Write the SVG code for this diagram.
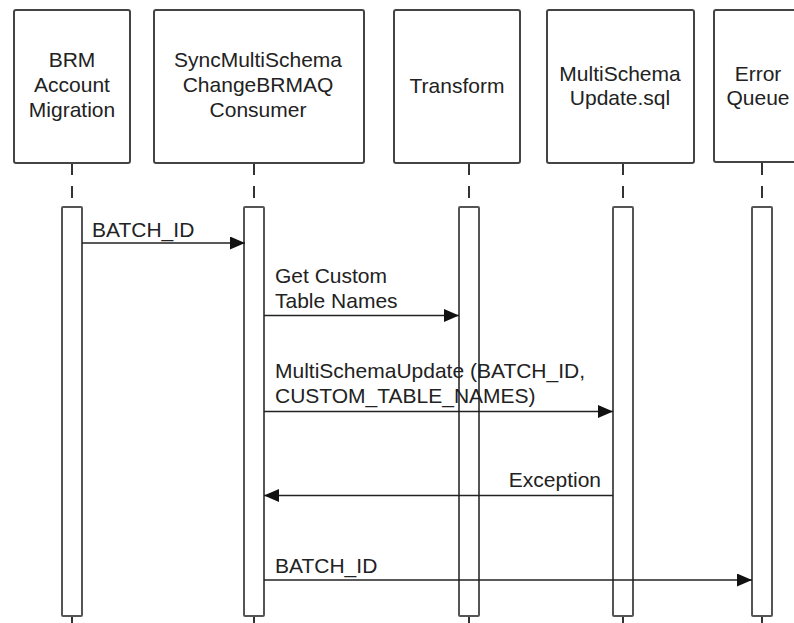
<svg xmlns="http://www.w3.org/2000/svg" width="794" height="623" viewBox="0 0 794 623">
<defs>
<style>
.box{fill:#fff;stroke:#444;stroke-width:2}
.bar{fill:#fff;stroke:#555;stroke-width:2}
.life{stroke:#333;stroke-width:2;stroke-dasharray:12 11}
.lifeb{stroke:#333;stroke-width:2}
.msg{stroke:#222;stroke-width:1.5;fill:none}
text{font-family:"Liberation Sans",Arial,sans-serif;font-size:21px;fill:#222}
.c{text-anchor:middle}
.e{text-anchor:end}
</style>
<marker id="ah" markerWidth="16" markerHeight="14" refX="15" refY="6.5" orient="auto" markerUnits="userSpaceOnUse">
<path d="M0,0 L15,6.5 L0,13 Z" fill="#111"/>
</marker>
</defs>
<rect width="794" height="623" fill="#fff"/>
<g id="lifelines">
<line class="life" x1="72" y1="163" x2="72" y2="207"/>
<line class="life" x1="254" y1="163" x2="254" y2="207"/>
<line class="life" x1="469" y1="163" x2="469" y2="207"/>
<line class="life" x1="623" y1="163" x2="623" y2="207"/>
<line class="life" x1="762" y1="163" x2="762" y2="207"/>
<line class="lifeb" x1="72" y1="616" x2="72" y2="623"/>
<line class="lifeb" x1="254" y1="616" x2="254" y2="623"/>
<line class="lifeb" x1="469" y1="616" x2="469" y2="623"/>
<line class="lifeb" x1="623" y1="616" x2="623" y2="623"/>
<line class="lifeb" x1="762" y1="616" x2="762" y2="623"/>
</g>
<g id="brm">
<rect class="box" x="14" y="10" width="116" height="153" rx="2"/>
<text class="c" x="72" y="67">BRM</text>
<text class="c" x="72" y="92">Account</text>
<text class="c" x="72" y="117">Migration</text>
<rect class="bar" x="62" y="207" width="20" height="409" rx="1"/>
</g>
<g id="sync">
<rect class="box" x="154" y="10" width="210" height="153" rx="2"/>
<text class="c" x="258" y="67">SyncMultiSchema</text>
<text class="c" x="258" y="92">ChangeBRMAQ</text>
<text class="c" x="258" y="117">Consumer</text>
<rect class="bar" x="244" y="207" width="20" height="409" rx="1"/>
</g>
<g id="transform">
<rect class="box" x="394" y="10" width="126" height="153" rx="2"/>
<text class="c" x="457" y="93">Transform</text>
<rect class="bar" x="459" y="207" width="20" height="409" rx="1"/>
</g>
<g id="multischema">
<rect class="box" x="547" y="10" width="147" height="153" rx="2"/>
<text class="c" x="620" y="81">MultiSchema</text>
<text class="c" x="620" y="105">Update.sql</text>
<rect class="bar" x="613" y="207" width="20" height="409" rx="1"/>
</g>
<g id="errorqueue">
<rect class="box" x="714" y="10" width="100" height="152" rx="2"/>
<text class="c" x="758" y="81">Error</text>
<text class="c" x="758" y="105">Queue</text>
<rect class="bar" x="752" y="207" width="20" height="409" rx="1"/>
</g>
<g id="connectors">
<line class="msg" x1="82" y1="243" x2="245" y2="243" marker-end="url(#ah)"/>
<text x="92" y="237">BATCH_ID</text>
<line class="msg" x1="264" y1="315.5" x2="459" y2="315.5" marker-end="url(#ah)"/>
<text x="275" y="283">Get Custom</text>
<text x="275" y="308">Table Names</text>
<line class="msg" x1="264" y1="411.5" x2="613" y2="411.5" marker-end="url(#ah)"/>
<text x="275" y="378">MultiSchemaUpdate (BATCH_ID,</text>
<text x="275" y="403">CUSTOM_TABLE_NAMES)</text>
<line class="msg" x1="613" y1="495.5" x2="264" y2="495.5" marker-end="url(#ah)"/>
<text class="e" x="601" y="487">Exception</text>
<line class="msg" x1="264" y1="580" x2="752" y2="580" marker-end="url(#ah)"/>
<text x="275" y="573">BATCH_ID</text>
</g>
</svg>
